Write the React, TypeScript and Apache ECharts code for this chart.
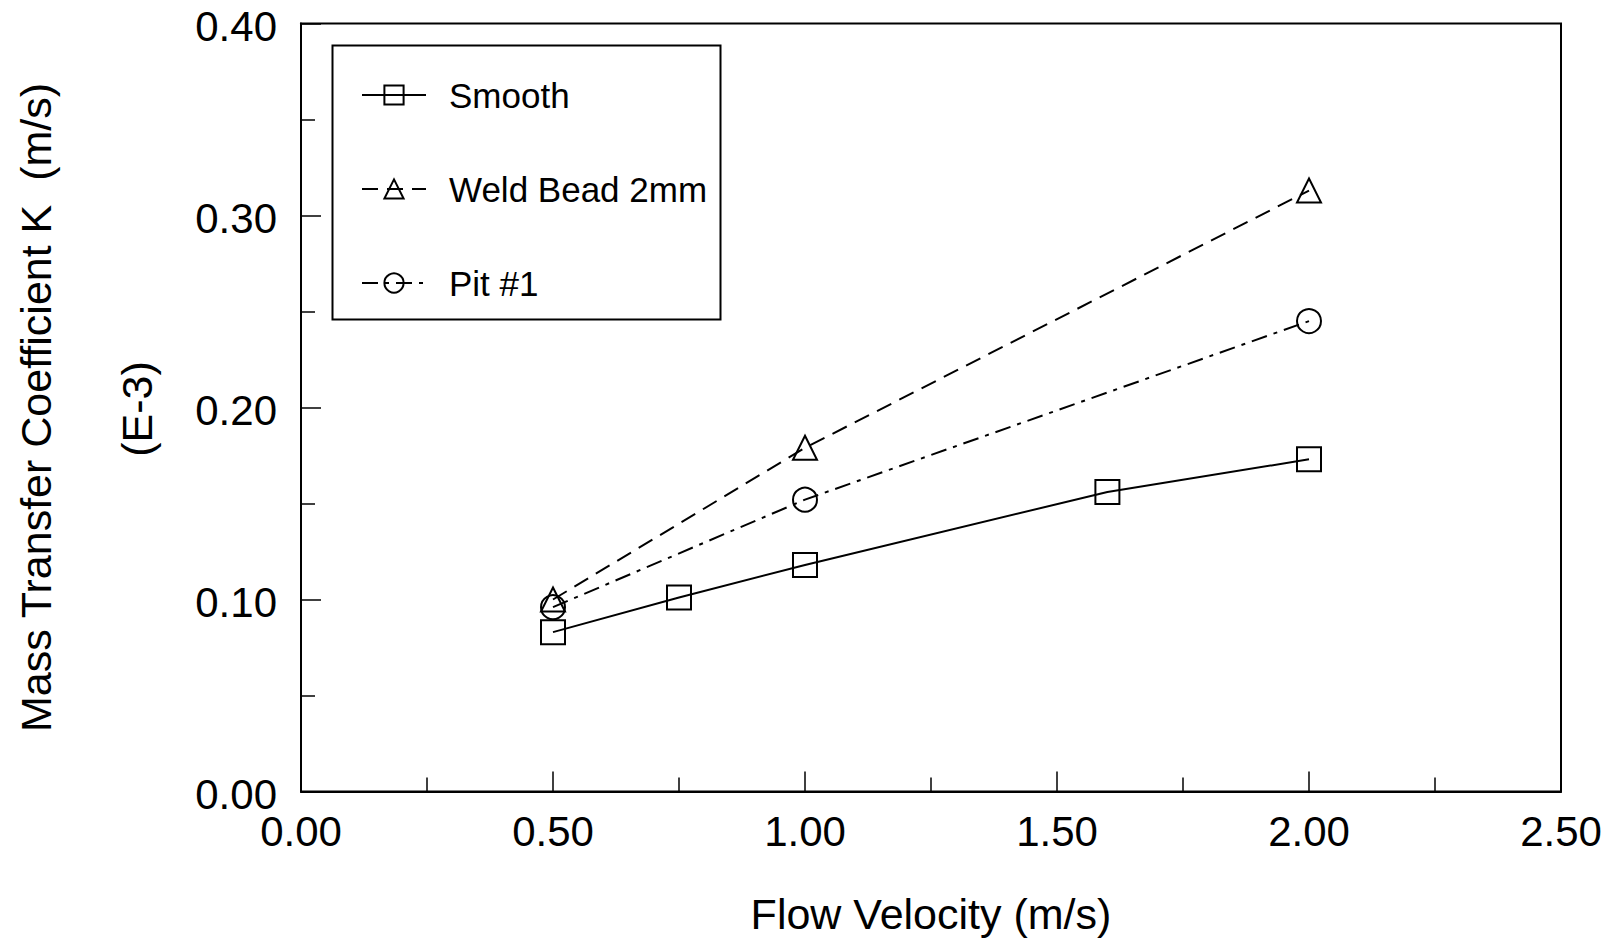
import React, { useEffect, useRef } from "react";
import * as echarts from "echarts";

const xTicks = [0, 0.5, 1.0, 1.5, 2.0, 2.5];
const yTicks = [0, 0.1, 0.2, 0.3, 0.4];

const smoothVelocity = [0.5, 0.75, 1.0, 1.6, 2.0];
const smoothK = [0.083, 0.101, 0.118, 0.156, 0.173];

const weldVelocity = [0.5, 1.0, 2.0];
const weldK = [0.1, 0.179, 0.313];

const pitVelocity = [0.5, 1.0, 2.0];
const pitK = [0.096, 0.152, 0.245];

const seriesNames = ["Smooth", "Weld Bead 2mm", "Pit #1"];

const FONT = "Liberation Sans, Arial, Helvetica, sans-serif";

export default function App() {
  const ref = useRef<HTMLDivElement>(null);
  useEffect(() => {
    document.body.style.margin = "0";
    if (!ref.current) return;
    const chart = echarts.init(ref.current, null, { renderer: "svg" });
    const pair = (xs: number[], ys: number[]) => xs.map((x, i) => [x, ys[i]]);
    const common = {
      type: "line",
      symbolSize: 24,
      itemStyle: { color: "rgba(0,0,0,0)", borderColor: "#000", borderWidth: 2 },
      emphasis: { disabled: true },
    };
    chart.setOption({
      animation: false,
      backgroundColor: "#fff",
      textStyle: { fontFamily: FONT, color: "#000" },
      grid: {
        left: 301,
        right: 55,
        top: 20,
        bottom: 151.5,
        show: true,
        borderColor: "#000",
        borderWidth: 2,
      },
      legend: {
        orient: "vertical",
        left: 356,
        top: 69,
        itemWidth: 64,
        itemHeight: 24,
        itemGap: 52,
        data: seriesNames,
        selectedMode: false,
        textStyle: {
          fontSize: 35,
          fontFamily: FONT,
          color: "#000",
          lineHeight: 42,
          padding: [0, 0, 0, 18],
        },
      },
      xAxis: {
        type: "value",
        min: xTicks[0],
        max: xTicks[xTicks.length - 1],
        interval: 0.5,
        name: "Flow Velocity (m/s)",
        nameLocation: "middle",
        nameGap: 101,
        nameTextStyle: { fontSize: 43, fontFamily: FONT, color: "#000" },
        axisLine: { show: true, lineStyle: { color: "#000", width: 2 } },
        axisTick: { show: true, inside: true, length: 20, lineStyle: { color: "#000", width: 1.5 } },
        minorTick: { show: true, splitNumber: 2, length: 14, lineStyle: { color: "#000", width: 1.5 } },
        splitLine: { show: false },
        axisLabel: {
          fontSize: 42,
          fontFamily: FONT,
          color: "#000",
          margin: 19,
          formatter: (v: number) => v.toFixed(2),
        },
      },
      yAxis: {
        type: "value",
        min: yTicks[0],
        max: yTicks[yTicks.length - 1],
        interval: 0.1,
        name: "Mass Transfer Coefficient K  (m/s)",
        nameLocation: "middle",
        nameGap: 244,
        nameTextStyle: { fontSize: 43, fontFamily: FONT, color: "#000" },
        axisLine: { show: true, lineStyle: { color: "#000", width: 2 } },
        axisTick: { show: true, inside: true, length: 20, lineStyle: { color: "#000", width: 1.5 } },
        minorTick: { show: true, splitNumber: 2, length: 14, lineStyle: { color: "#000", width: 1.5 } },
        splitLine: { show: false },
        axisLabel: {
          fontFamily: FONT,
          color: "#000",
          margin: 24,
          formatter: (v: number) => "{a|" + v.toFixed(2) + "}",
          rich: {
            a: {
              fontSize: 42,
              fontFamily: FONT,
              color: "#000",
              lineHeight: 30,
              padding: [5, 0, 0, 0],
            },
          },
        },
      },
      graphic: [
        {
          type: "rect",
          left: 330,
          top: 43,
          shape: { width: 388, height: 274 },
          style: { fill: "none", stroke: "#000", lineWidth: 2 },
          z: 10,
        },
        {
          type: "text",
          x: 137,
          y: 409,
          rotation: Math.PI / 2,
          style: {
            text: "(E-3)",
            fontSize: 43,
            fontFamily: FONT,
            fill: "#000",
            align: "center",
            verticalAlign: "middle",
          },
        },
      ],
      series: [
        {
          ...common,
          name: seriesNames[0],
          symbol: "rect",
          data: pair(smoothVelocity, smoothK),
          lineStyle: { color: "#000", width: 2, type: "solid" },
        },
        {
          ...common,
          name: seriesNames[1],
          symbol: "triangle",
          data: pair(weldVelocity, weldK),
          lineStyle: { color: "#000", width: 2, type: [16, 9] },
        },
        {
          ...common,
          name: seriesNames[2],
          symbol: "circle",
          data: pair(pitVelocity, pitK),
          lineStyle: { color: "#000", width: 2, type: [16, 7, 4, 7] },
        },
      ],
    });
    return () => chart.dispose();
  }, []);
  return <div ref={ref} style={{ width: 1616, height: 943 }} />;
}
